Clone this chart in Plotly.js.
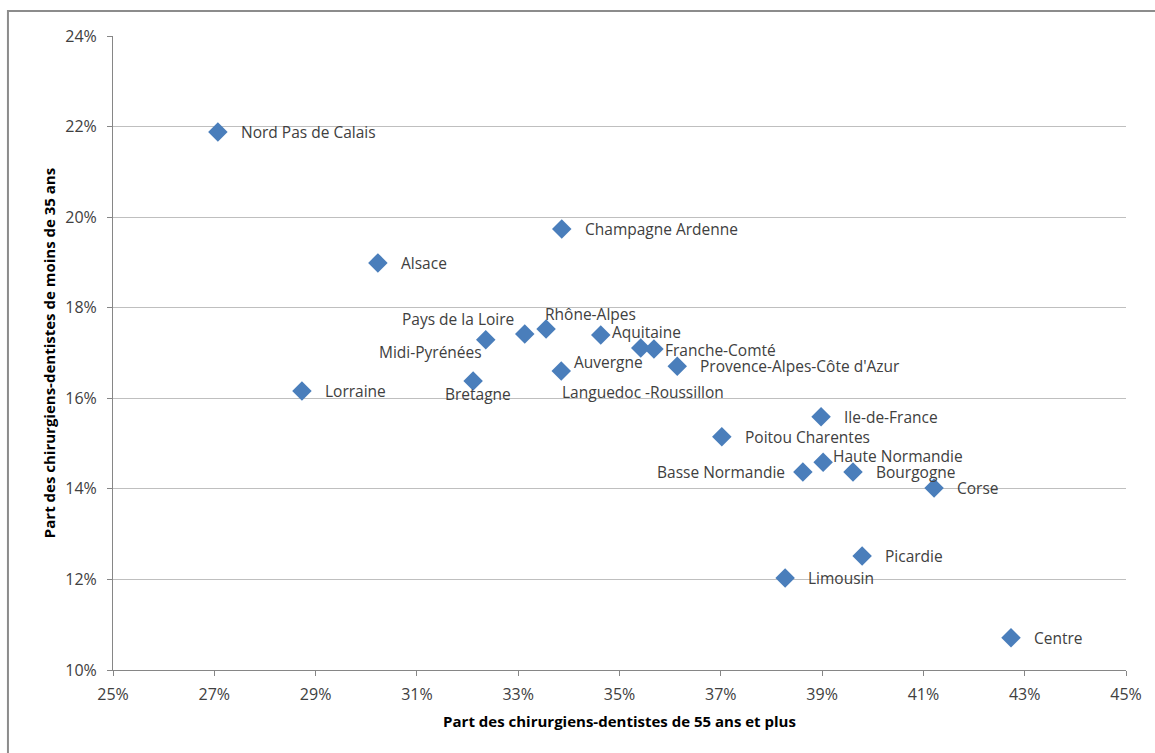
<!DOCTYPE html>
<html>
<head>
<meta charset="utf-8">
<script src="https://cdn.plot.ly/plotly-3.0.1.min.js"></script>
<style>
  html, body { margin: 0; padding: 0; background: #fff; }
  #chart { width: 1155px; height: 753px; }
</style>
</head>
<body>
<div id="chart"></div>
<script>
// ---- Data ----
const regions = [
  "Nord Pas de Calais", "Champagne Ardenne", "Alsace", "Pays de la Loire",
  "Midi-Pyrénées", "Rhône-Alpes", "Aquitaine", "Languedoc -Roussillon",
  "Franche-Comté", "Provence-Alpes-Côte d'Azur", "Auvergne", "Bretagne",
  "Lorraine", "Ile-de-France", "Poitou Charentes", "Haute Normandie",
  "Basse Normandie", "Bourgogne", "Corse", "Picardie", "Limousin", "Centre"
];
// Part des chirurgiens-dentistes de 55 ans et plus (%)
const share55plus = [
  27.07, 33.86, 30.23, 33.13,
  32.36, 33.55, 34.63, 35.42,
  35.68, 36.14, 33.85, 32.11,
  28.73, 38.98, 37.02, 39.02,
  38.62, 39.61, 41.21, 39.79, 38.27, 42.73
];
// Part des chirurgiens-dentistes de moins de 35 ans (%)
const shareUnder35 = [
  21.88, 19.74, 18.99, 17.42,
  17.29, 17.53, 17.40, 17.11,
  17.09, 16.71, 16.60, 16.38,
  16.16, 15.59, 15.15, 14.59,
  14.37, 14.37, 14.02, 12.52, 12.03, 10.71
];
const xTickVals = [25, 27, 29, 31, 33, 35, 37, 39, 41, 43, 45];
const xTickText = ["25%", "27%", "29%", "31%", "33%", "35%", "37%", "39%", "41%", "43%", "45%"];
const yTickVals = [10, 12, 14, 16, 18, 20, 22, 24];
const yTickText = ["10%", "12%", "14%", "16%", "18%", "20%", "22%", "24%"];

// ---- Label placement (pixel offsets from each marker) ----
const labelPlacement = {
  "Pays de la Loire":      {xanchor: "right", xshift: -9,  yshift: 15},
  "Midi-Pyrénées":         {xanchor: "right", xshift: -2,  yshift: -12},
  "Rhône-Alpes":           {xanchor: "left",  xshift: -3,  yshift: 15},
  "Aquitaine":             {xanchor: "left",  xshift: 9,   yshift: 3},
  "Languedoc -Roussillon": {xanchor: "left",  xshift: -81, yshift: -44},
  "Franche-Comté":         {xanchor: "left",  xshift: 9,   yshift: -1},
  "Auvergne":              {xanchor: "left",  xshift: 11,  yshift: 9},
  "Bretagne":              {xanchor: "center",xshift: 5,   yshift: -13},
  "Haute Normandie":       {xanchor: "left",  xshift: 8,   yshift: 6},
  "Basse Normandie":       {xanchor: "right", xshift: -16, yshift: 0}
};
const defaultPlacement = {xanchor: "left", xshift: 21, yshift: 0};

const font = "'Open Sans', 'Noto Sans', sans-serif";
const textColor = "#404040";

const annotations = regions.map((name, i) => {
  const p = labelPlacement[name] || defaultPlacement;
  return {
    x: share55plus[i], y: shareUnder35[i], xref: "x", yref: "y",
    text: name, showarrow: false,
    xanchor: p.xanchor, yanchor: "middle",
    xshift: p.xshift, yshift: p.yshift,
    font: {family: font, size: 15.5, color: textColor}
  };
});

const trace = {
  type: "scatter", mode: "markers",
  x: share55plus, y: shareUnder35, text: regions,
  marker: {symbol: "diamond", size: 15, color: "#4a7ebb", line: {width: 0}},
  hoverinfo: "text+x+y"
};

const layout = {
  width: 1155, height: 753,
  margin: {l: 113, r: 29, t: 36, b: 83},
  paper_bgcolor: "#ffffff", plot_bgcolor: "#ffffff",
  showlegend: false,
  font: {family: font, color: textColor, size: 15},
  xaxis: {
    range: [25, 45], tickmode: "array", tickvals: xTickVals, ticktext: xTickText,
    showgrid: false, zeroline: false,
    showline: true, linecolor: "#868686", linewidth: 1,
    ticks: "outside", ticklen: 5, tickcolor: "#868686", ticklabelstandoff: 5,
    tickfont: {family: font, size: 16, color: textColor},
    title: {text: "Part des chirurgiens-dentistes de 55 ans et plus",
            font: {family: font, size: 15, color: "#000000", weight: "bold"}, standoff: 12}
  },
  yaxis: {
    range: [10, 24], tickmode: "array", tickvals: yTickVals, ticktext: yTickText,
    showgrid: true, gridcolor: "#bfbfbf", gridwidth: 1, zeroline: false,
    showline: true, linecolor: "#868686", linewidth: 1,
    ticks: "outside", ticklen: 5, tickcolor: "#868686", ticklabelstandoff: 7,
    tickfont: {family: font, size: 16, color: textColor},
    title: {text: "Part des chirurgiens-dentistes de moins de 35 ans",
            font: {family: font, size: 15, color: "#000000", weight: "bold"}, standoff: 6}
  },
  annotations: annotations,
  shapes: [{
    type: "rect", xref: "paper", yref: "paper", layer: "below",
    x0: -0.1037, x1: 1.2, y0: -0.3, y1: 1.0394,
    line: {color: "#8c8c8c", width: 2}, fillcolor: "rgba(0,0,0,0)"
  }]
};

Plotly.newPlot("chart", [trace], layout, {displayModeBar: false, responsive: false});
</script>
</body>
</html>
